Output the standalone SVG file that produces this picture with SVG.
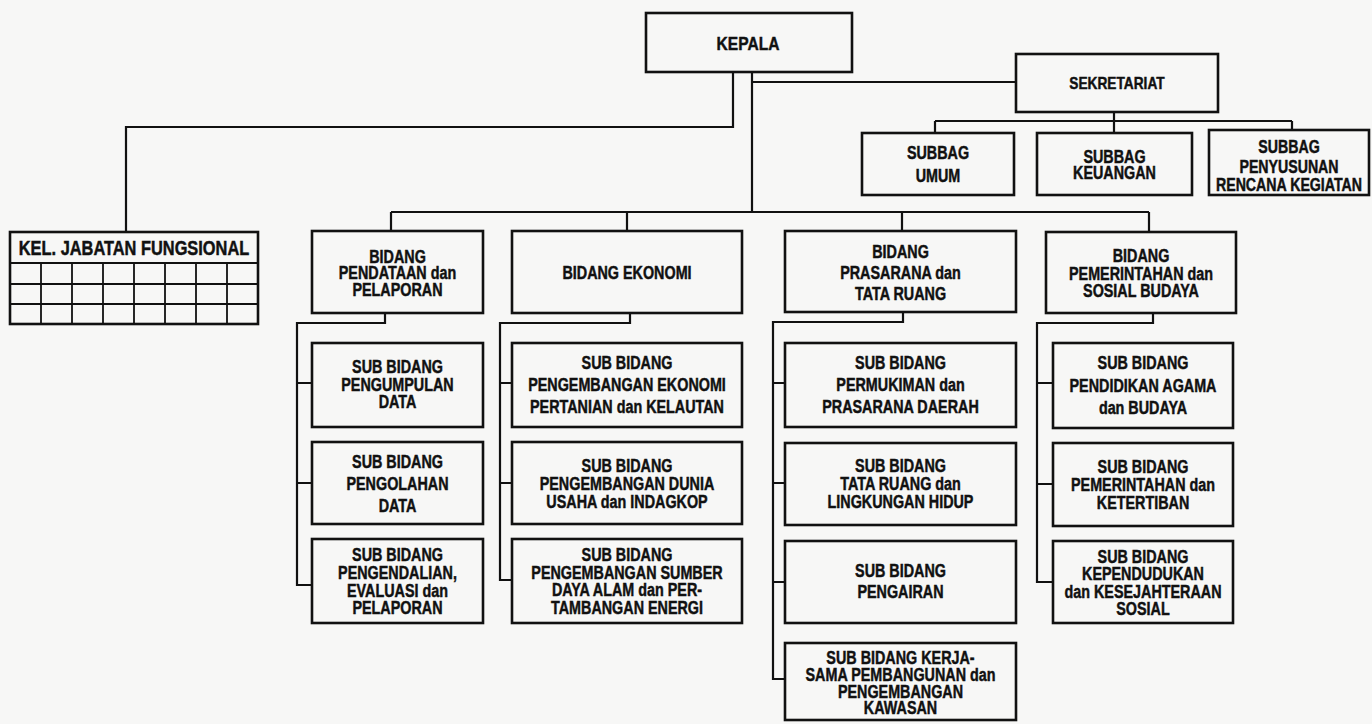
<svg xmlns="http://www.w3.org/2000/svg" width="1372" height="724" viewBox="0 0 1372 724">
<style>
.bx{fill:none;stroke:#111;stroke-width:2.6}
.ln{fill:none;stroke:#111;stroke-width:2.2}
.gr{fill:none;stroke:#111;stroke-width:1.8}
text{font-family:'Liberation Sans',Arial,sans-serif;font-weight:bold;font-size:17.5px;fill:#111;stroke:#111;stroke-width:0.45;text-anchor:middle}
.big{font-size:19px}
.sek{font-size:16.5px}
.kel{font-size:19.5px}
</style>
<rect x="0" y="0" width="1372" height="724" fill="#f7f7f6"/>
<g id="connectors">
<path class="ln" d="M733,72 V127 H126 V232"/>
<path class="ln" d="M752,72 V212"/>
<path class="ln" d="M752,82 H1016"/>
<path class="ln" d="M391,212 H1149 M391,212 V231 M627,212 V231 M902,212 V231 M1149,212 V232"/>
<path class="ln" d="M1114,112 V121 M935,121 H1292 M935,121 V133 M1114,121 V133 M1292,121 V130"/>
<path class="ln" d="M385,313 V323 H297 V585 H312 M297,383 H312 M297,483 H312"/>
<path class="ln" d="M630,313 V323 H500 V580 H512 M500,383 H512 M500,483 H512"/>
<path class="ln" d="M903,312 V322 H773 V679 H785 M773,383 H785 M773,483 H785 M773,582 H785"/>
<path class="ln" d="M1153,313 V323 H1037 V582 H1053 M1037,383 H1053 M1037,484 H1053"/>
</g>
<g id="kepala"><rect class="bx" x="646" y="13" width="206" height="59"/><g transform="translate(748 0) scale(0.82 1)"><text class="big" x="0" y="50">KEPALA</text></g></g>
<g id="sekretariat"><rect class="bx" x="1016" y="54" width="202" height="58"/><g transform="translate(1117 0) scale(0.83 1)"><text class="sek" x="0" y="89">SEKRETARIAT</text></g></g>
<g id="subbag-umum"><rect class="bx" x="862" y="133" width="152" height="62"/><g transform="translate(938 0) scale(0.82 1)"><text x="0" y="159">SUBBAG</text><text x="0" y="182">UMUM</text></g></g>
<g id="subbag-keuangan"><rect class="bx" x="1037" y="133" width="155" height="62"/><g transform="translate(1114.5 0) scale(0.82 1)"><text x="0" y="163">SUBBAG</text><text x="0" y="179">KEUANGAN</text></g></g>
<g id="subbag-penyusunan"><rect class="bx" x="1209" y="130" width="160" height="65"/><g transform="translate(1289 0) scale(0.81 1)"><text x="0" y="153">SUBBAG</text><text x="0" y="173">PENYUSUNAN</text><text x="0" y="191">RENCANA KEGIATAN</text></g></g>
<g id="kel-jabatan-fungsional">
<rect class="bx" x="10" y="232" width="248" height="92"/>
<path class="gr" d="M10,263 H258 M10,284 H258 M10,304 H258 M41,263 V324 M72,263 V324 M103,263 V324 M134,263 V324 M165,263 V324 M196,263 V324 M227,263 V324"/>
<g transform="translate(134 0) scale(0.84 1)"><text class="kel" x="0" y="255">KEL. JABATAN FUNGSIONAL</text></g>
</g>
<g id="bidang-pendataan"><rect class="bx" x="312" y="231" width="171" height="82"/><g transform="translate(397.5 0) scale(0.82 1)"><text x="0" y="263">BIDANG</text><text x="0" y="279">PENDATAAN dan</text><text x="0" y="296">PELAPORAN</text></g></g>
<g id="bidang-ekonomi"><rect class="bx" x="512" y="231" width="230" height="82"/><g transform="translate(627 0) scale(0.82 1)"><text x="0" y="279">BIDANG EKONOMI</text></g></g>
<g id="bidang-prasarana"><rect class="bx" x="785" y="231" width="231" height="81"/><g transform="translate(900.5 0) scale(0.82 1)"><text x="0" y="258">BIDANG</text><text x="0" y="279">PRASARANA dan</text><text x="0" y="300">TATA RUANG</text></g></g>
<g id="bidang-pemerintahan"><rect class="bx" x="1046" y="232" width="190" height="81"/><g transform="translate(1141 0) scale(0.82 1)"><text x="0" y="262">BIDANG</text><text x="0" y="280">PEMERINTAHAN dan</text><text x="0" y="297">SOSIAL BUDAYA</text></g></g>
<g id="sb-pengumpulan"><rect class="bx" x="312" y="343" width="171" height="84"/><g transform="translate(397.5 0) scale(0.82 1)"><text x="0" y="373.5">SUB BIDANG</text><text x="0" y="391">PENGUMPULAN</text><text x="0" y="408.5">DATA</text></g></g>
<g id="sb-pengolahan"><rect class="bx" x="312" y="442" width="171" height="82"/><g transform="translate(397.5 0) scale(0.82 1)"><text x="0" y="468">SUB BIDANG</text><text x="0" y="490">PENGOLAHAN</text><text x="0" y="512">DATA</text></g></g>
<g id="sb-pengendalian"><rect class="bx" x="312" y="539" width="171" height="84"/><g transform="translate(397.5 0) scale(0.82 1)"><text x="0" y="561">SUB BIDANG</text><text x="0" y="579">PENGENDALIAN,</text><text x="0" y="597">EVALUASI dan</text><text x="0" y="614">PELAPORAN</text></g></g>
<g id="sb-ekonomi-pertanian"><rect class="bx" x="512" y="343" width="230" height="84"/><g transform="translate(627 0) scale(0.82 1)"><text x="0" y="369">SUB BIDANG</text><text x="0" y="391">PENGEMBANGAN EKONOMI</text><text x="0" y="413">PERTANIAN dan KELAUTAN</text></g></g>
<g id="sb-dunia-usaha"><rect class="bx" x="512" y="442" width="230" height="82"/><g transform="translate(627 0) scale(0.82 1)"><text x="0" y="472">SUB BIDANG</text><text x="0" y="490">PENGEMBANGAN DUNIA</text><text x="0" y="508">USAHA dan INDAGKOP</text></g></g>
<g id="sb-sumber-daya"><rect class="bx" x="512" y="539" width="230" height="84"/><g transform="translate(627 0) scale(0.82 1)"><text x="0" y="561">SUB BIDANG</text><text x="0" y="579">PENGEMBANGAN SUMBER</text><text x="0" y="596">DAYA ALAM dan PER-</text><text x="0" y="614">TAMBANGAN ENERGI</text></g></g>
<g id="sb-permukiman"><rect class="bx" x="785" y="343" width="231" height="84"/><g transform="translate(900.5 0) scale(0.82 1)"><text x="0" y="369">SUB BIDANG</text><text x="0" y="391">PERMUKIMAN dan</text><text x="0" y="413">PRASARANA DAERAH</text></g></g>
<g id="sb-tata-ruang"><rect class="bx" x="785" y="443" width="231" height="82"/><g transform="translate(900.5 0) scale(0.82 1)"><text x="0" y="472">SUB BIDANG</text><text x="0" y="490">TATA RUANG dan</text><text x="0" y="508">LINGKUNGAN HIDUP</text></g></g>
<g id="sb-pengairan"><rect class="bx" x="785" y="541" width="231" height="82"/><g transform="translate(900.5 0) scale(0.82 1)"><text x="0" y="577">SUB BIDANG</text><text x="0" y="598">PENGAIRAN</text></g></g>
<g id="sb-kerjasama"><rect class="bx" x="785" y="643" width="231" height="77"/><g transform="translate(900.5 0) scale(0.82 1)"><text x="0" y="664">SUB BIDANG KERJA-</text><text x="0" y="681">SAMA PEMBANGUNAN dan</text><text x="0" y="698">PENGEMBANGAN</text><text x="0" y="714">KAWASAN</text></g></g>
<g id="sb-pendidikan"><rect class="bx" x="1053" y="343" width="180" height="85"/><g transform="translate(1143 0) scale(0.82 1)"><text x="0" y="369">SUB BIDANG</text><text x="0" y="392">PENDIDIKAN AGAMA</text><text x="0" y="414">dan BUDAYA</text></g></g>
<g id="sb-pemerintahan"><rect class="bx" x="1053" y="443" width="180" height="83"/><g transform="translate(1143 0) scale(0.82 1)"><text x="0" y="473">SUB BIDANG</text><text x="0" y="491">PEMERINTAHAN dan</text><text x="0" y="509">KETERTIBAN</text></g></g>
<g id="sb-kependudukan"><rect class="bx" x="1053" y="541" width="180" height="82"/><g transform="translate(1143 0) scale(0.82 1)"><text x="0" y="563">SUB BIDANG</text><text x="0" y="580">KEPENDUDUKAN</text><text x="0" y="598">dan KESEJAHTERAAN</text><text x="0" y="615">SOSIAL</text></g></g>
</svg>
